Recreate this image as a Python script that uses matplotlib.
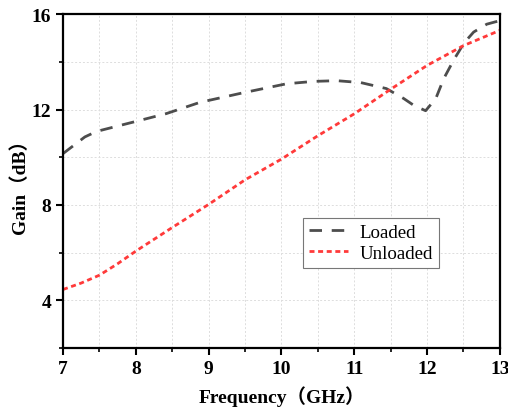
import matplotlib
matplotlib.use("Agg")
import matplotlib.pyplot as plt
from matplotlib.ticker import MultipleLocator

loaded_freq = [7.0, 7.15, 7.3, 7.46, 7.78, 8.0, 8.42, 8.88, 9.47, 10.07, 10.44, 10.76, 11.09,
               11.44, 11.68, 11.82, 11.98, 12.12, 12.23, 12.37, 12.51, 12.64, 12.82, 12.94, 13.0]
loaded_gain = [10.15, 10.5, 10.85, 11.08, 11.33, 11.5, 11.83, 12.3, 12.7, 13.08, 13.18, 13.21, 13.13,
               12.88, 12.46, 12.17, 11.95, 12.46, 13.3, 14.1, 14.8, 15.25, 15.58, 15.68, 15.72]

unloaded_freq = [7.0, 7.25, 7.5, 7.75, 8.0, 8.5, 9.0, 9.5, 10.0, 10.5, 11.0, 11.5, 12.0, 12.5, 13.0]
unloaded_gain = [4.45, 4.72, 5.05, 5.53, 6.06, 7.05, 8.02, 9.05, 9.92, 10.9, 11.82, 12.85, 13.85, 14.68, 15.32]

fig = plt.figure(figsize=(5.08, 4.10), dpi=100)
ax = fig.add_axes([0.124, 0.149, 0.86, 0.814])

ax.plot(loaded_freq, loaded_gain, color="#4d4d4d", lw=2, dashes=(4.5, 3.5), label="Loaded")
ax.plot(unloaded_freq, unloaded_gain, color="#ff3a3a", lw=2, dashes=(1.8, 1.3), label="Unloaded")

ax.set_xlim(7, 13)
ax.set_ylim(2, 16)
ax.xaxis.set_major_locator(MultipleLocator(1))
ax.xaxis.set_minor_locator(MultipleLocator(0.5))
ax.yaxis.set_major_locator(MultipleLocator(4))
ax.yaxis.set_minor_locator(MultipleLocator(2))

ax.grid(True, which="both", color="#dddddd", linestyle=(0, (2, 2)), lw=0.7)
ax.set_axisbelow(True)

for s in ax.spines.values():
    s.set_linewidth(1.6)

ax.tick_params(which="major", direction="out", length=5, width=1.5)
ax.tick_params(which="minor", direction="out", length=3, width=1.2)

serif = ["Liberation Serif", "Noto Sans CJK SC"]
for lab in ax.get_xticklabels() + ax.get_yticklabels():
    lab.set_family("Liberation Serif")
    lab.set_fontweight("bold")
    lab.set_fontsize(14)

ax.set_xlabel("Frequency（GHz）", family=serif, fontweight="bold", fontsize=14, labelpad=6)
ax.set_ylabel("Gain（dB）", family=serif, fontweight="bold", fontsize=14, labelpad=2)

leg = ax.legend(loc="upper left", bbox_to_anchor=(0.549, 0.389), prop={"family": "Liberation Serif", "size": 13.6},
                frameon=True, fancybox=False, edgecolor="#777777", framealpha=1,
                handlelength=2.1, borderpad=0.3, labelspacing=0.2, handletextpad=0.6,
                borderaxespad=0)
leg.get_frame().set_linewidth(0.8)

fig.savefig("out.png", dpi=100)
